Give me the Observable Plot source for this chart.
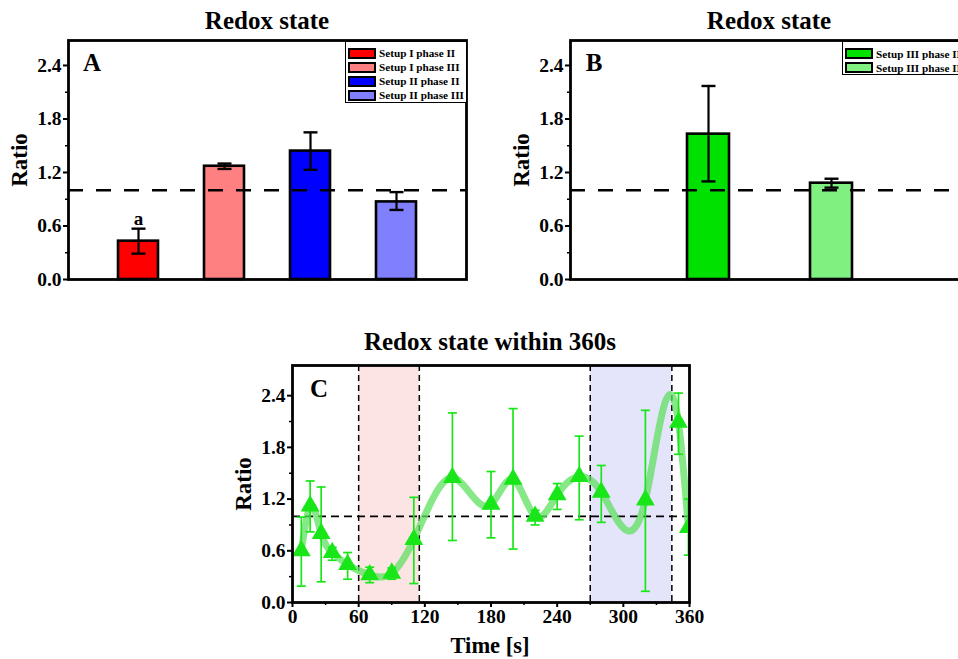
<!DOCTYPE html>
<html><head><meta charset="utf-8">
<script src="https://cdn.jsdelivr.net/npm/d3@7"></script>
<script src="https://cdn.jsdelivr.net/npm/@observablehq/plot@0.6"></script>
<style>
body{margin:0;background:#fff;overflow:hidden;}
#root{position:relative;width:958px;height:659px;overflow:hidden;font-family:"Liberation Serif","Times New Roman",serif;font-weight:bold;color:#000;}
.lbl{position:absolute;font-weight:bold;white-space:nowrap;line-height:1;}
.title{font-size:25px;transform:translate(-50%,-50%);}
.ylab{font-size:23px;transform:translate(-50%,-50%) rotate(-90deg);}
.xlab{font-size:22.5px;transform:translate(-50%,-50%);}
.panel{font-size:25px;transform:translate(-50%,-50%);}
.legend{position:absolute;border:1px solid #000;background:#fff;box-sizing:border-box;}
.lrow{position:absolute;left:2px;display:flex;align-items:center;font-size:11.2px;white-space:nowrap;}
.sw{width:24px;height:7px;border:2px solid #000;margin-right:3px;}
svg{position:absolute;}
svg text{font-family:"Liberation Serif","Times New Roman",serif;font-weight:bold;}
</style></head><body><div id="root"></div>
<script>
// ---------- data ----------
const catsA = ["Setup I phase II","Setup I phase III","Setup II phase II","Setup II phase III"];
const valsA = [0.43, 1.27, 1.44, 0.87];
const errLoA = [0.29, 1.24, 1.23, 0.78];
const errHiA = [0.57, 1.30, 1.65, 0.98];
const colorsA = ["#ff0000", "#ff8080", "#0000ff", "#8080ff"];

const catsB = ["Setup III phase II","Setup III phase III"];
const valsB = [1.63, 1.08];
const errLoB = [1.10, 1.03];
const errHiB = [2.17, 1.13];
const colorsB = ["#00e100", "#80f080"];

const timeC  = [8, 16, 26, 36, 50, 70, 90, 110, 145, 180, 200, 220, 240, 260, 280, 320, 350, 359];
const valsC  = [0.60,1.12,0.80,0.58,0.44,0.32,0.34,0.73,1.45,1.14,1.43,1.00,1.25,1.46,1.28,1.19,2.09,0.87];
const errLoC = [0.19,0.82,0.24,0.49,0.27,0.23,0.27,0.22,0.72,0.75,0.62,0.90,1.08,0.96,0.93,0.13,1.72,0.55];
const errHiC = [0.99,1.41,1.34,0.64,0.58,0.41,0.40,1.22,2.20,1.52,2.25,1.07,1.38,1.93,1.59,2.23,2.43,1.20];
const phaseII_C  = [60, 115];
const phaseIII_C = [270, 344];

const yTicks = [0, 0.6, 1.2, 1.8, 2.4];
const yMinor = [0.3, 0.9, 1.5, 2.1];
const xTicksC = [0, 60, 120, 180, 240, 300, 360];
const xMinorC = [30, 90, 150, 210, 270, 330];
const refLine = [1];

// ---------- helpers ----------
const root = document.getElementById("root");
const cap = w => ({draw(ctx){ ctx.moveTo(-w, 0); ctx.lineTo(w, 0); }});
const fmt = d3.format(".1f");
function place(el, left, top){ el.style.left = left + "px"; el.style.top = top + "px"; root.appendChild(el); }
function label(text, cls, x, y){ const d = document.createElement("div"); d.className = "lbl " + cls; d.textContent = text; place(d, x, y); }
function legend(cats, colors, x, y, w, h, rowY){
  const box = document.createElement("div"); box.className = "legend";
  box.style.width = w + "px"; box.style.height = h + "px";
  cats.forEach((c, i) => {
    const r = document.createElement("div"); r.className = "lrow"; r.style.top = rowY[i] + "px";
    const s = document.createElement("div"); s.className = "sw"; s.style.background = colors[i];
    const t = document.createElement("span"); t.textContent = c;
    r.appendChild(s); r.appendChild(t); box.appendChild(r);
  });
  place(box, x, y);
}
// cubic spline y(x) curve (as a d3 curve factory), like Origin's "spline" connection
function splineX(context){
  let xs, ys;
  return {
    areaStart(){}, areaEnd(){},
    lineStart(){ xs = []; ys = []; },
    point(x, y){ xs.push(+x); ys.push(+y); },
    lineEnd(){
      const n = xs.length;
      if (!n) return;
      context.moveTo(xs[0], ys[0]);
      if (n < 3){ if (n === 2) context.lineTo(xs[1], ys[1]); return; }
      const h = [];
      for (let i = 0; i < n - 1; i++) h.push(xs[i+1] - xs[i]);
      const a = [], b = [], c = [], d = [];
      for (let i = 1; i < n - 1; i++){
        a.push(h[i-1]); b.push(2 * (h[i-1] + h[i])); c.push(h[i]);
        d.push(6 * ((ys[i+1] - ys[i]) / h[i] - (ys[i] - ys[i-1]) / h[i-1]));
      }
      const m = b.length;
      for (let i = 1; i < m; i++){ const w = a[i] / b[i-1]; b[i] -= w * c[i-1]; d[i] -= w * d[i-1]; }
      const sol = new Array(m);
      sol[m-1] = d[m-1] / b[m-1];
      for (let i = m - 2; i >= 0; i--) sol[i] = (d[i] - c[i] * sol[i+1]) / b[i];
      const M = [0, ...sol, 0];
      for (let i = 0; i < n - 1; i++){
        const hi = h[i], s = (ys[i+1] - ys[i]) / hi;
        const m0 = s - hi * (2 * M[i] + M[i+1]) / 6;
        const m1 = s + hi * (M[i] + 2 * M[i+1]) / 6;
        context.bezierCurveTo(xs[i] + hi/3, ys[i] + m0*hi/3, xs[i+1] - hi/3, ys[i+1] - m1*hi/3, xs[i+1], ys[i+1]);
      }
    }
  };
}
const baseStyle = {fontFamily: "Liberation Serif", fontSize: "19.5px", fontWeight: "bold", background: "transparent", overflow: "visible"};

function barPanel(cats, vals, lo, hi, colors, pin, pout, extra){
  const data = cats.map((c, i) => ({c, v: vals[i], lo: lo[i], hi: hi[i], col: colors[i]}));
  return Plot.plot({
    width: 480, height: 300, marginLeft: 68, marginRight: 14, marginTop: 40, marginBottom: 21,
    style: baseStyle,
    x: {domain: cats, paddingInner: pin, paddingOuter: pout, axis: null},
    y: {domain: [0, 2.68], axis: null},
    marks: [
      Plot.barY(data, {x: "c", y: "v", fill: d => d.col, stroke: "black", strokeWidth: 2.6}),
      Plot.ruleY(refLine, {strokeDasharray: "15,13", strokeWidth: 2.6}),
      Plot.ruleX(data, {x: "c", y1: "lo", y2: "hi", strokeWidth: 2.2}),
      Plot.dot(data, {x: "c", y: "lo", symbol: cap(7), fill: "none", stroke: "black", strokeWidth: 2.4}),
      Plot.dot(data, {x: "c", y: "hi", symbol: cap(7), fill: "none", stroke: "black", strokeWidth: 2.4}),
      ...extra(data),
      Plot.axisY({ticks: yTicks, tickFormat: fmt, tickSize: 5, tickPadding: 2, strokeWidth: 2, label: null}),
      Plot.axisY({ticks: yMinor, tickSize: 3, text: null, strokeWidth: 1.5, label: null}),
      Plot.frame({strokeWidth: 2.8})
    ]
  });
}

// ---------- Panel A ----------
const svgA = barPanel(catsA, valsA, errLoA, errHiA, colorsA, 0.54, 0.56,
  data => [Plot.text([data[0]], {x: "c", y: "hi", text: () => "a", dy: -10, fontSize: 19})]);
place(svgA, 0, 0);
label("Redox state", "title", 267, 20);
label("Ratio", "ylab", 19, 160);
label("A", "panel", 92, 62);
legend(catsA, colorsA, 345, 41, 122, 62, [5, 19, 33, 47]);

// ---------- Panel B ----------
const svgB = barPanel(catsB, valsB, errLoB, errHiB, colorsB, 0.66, 0.935, () => []);
place(svgB, 502, 0);
label("Redox state", "title", 769, 20);
label("Ratio", "ylab", 521, 160);
label("B", "panel", 594, 62);
legend(catsB, colorsB, 842, 41, 140, 34, [5.5, 19.5]);

// ---------- Panel C ----------
const dataC = timeC.map((t, i) => ({t, v: valsC[i], lo: errLoC[i], hi: errHiC[i]}));
const green = "#19e619";
const svgC = Plot.plot({
  width: 720, height: 339, marginLeft: 292, marginRight: 31, marginTop: 45, marginBottom: 57,
  style: baseStyle,
  x: {domain: [0, 360], axis: null},
  y: {domain: [0, 2.75], axis: null},
  marks: [
    Plot.rect([phaseII_C], {x1: d => d[0], x2: d => d[1], fill: "#fde4e4"}),
    Plot.rect([phaseIII_C], {x1: d => d[0], x2: d => d[1], fill: "#e4e4fb"}),
    Plot.ruleY(refLine, {strokeDasharray: "8,5", strokeWidth: 1.8}),
    Plot.ruleX([...phaseII_C, ...phaseIII_C], {strokeDasharray: "6,4", strokeWidth: 1.5}),
    Plot.line(dataC, {x: "t", y: "v", curve: splineX, stroke: "#5fe05f", strokeOpacity: 0.75, strokeWidth: 7, clip: true}),
    Plot.ruleX(dataC, {x: "t", y1: "lo", y2: "hi", stroke: green, strokeWidth: 1.7, clip: true}),
    Plot.dot(dataC, {x: "t", y: "lo", symbol: cap(4.5), fill: "none", stroke: green, strokeWidth: 1.7, clip: true}),
    Plot.dot(dataC, {x: "t", y: "hi", symbol: cap(4.5), fill: "none", stroke: green, strokeWidth: 1.7, clip: true}),
    Plot.dot(dataC, {x: "t", y: "v", symbol: "triangle", fill: green, r: 7, clip: true}),
    Plot.axisY({ticks: yTicks, tickFormat: fmt, tickSize: 5, tickPadding: 2, strokeWidth: 2, label: null}),
    Plot.axisY({ticks: yMinor, tickSize: 3, text: null, strokeWidth: 1.5, label: null}),
    Plot.axisX({ticks: xTicksC, tickFormat: d3.format("d"), tickSize: 5, tickPadding: 2, strokeWidth: 2, label: null}),
    Plot.axisX({ticks: xMinorC, tickSize: 3, text: null, strokeWidth: 1.5, label: null}),
    Plot.frame({strokeWidth: 2.8})
  ]
});
place(svgC, 0, 320);
label("Redox state within 360s", "title", 490, 341);
label("Ratio", "ylab", 243, 484);
label("Time [s]", "xlab", 490, 646);
label("C", "panel", 319, 388);
</script></body></html>
